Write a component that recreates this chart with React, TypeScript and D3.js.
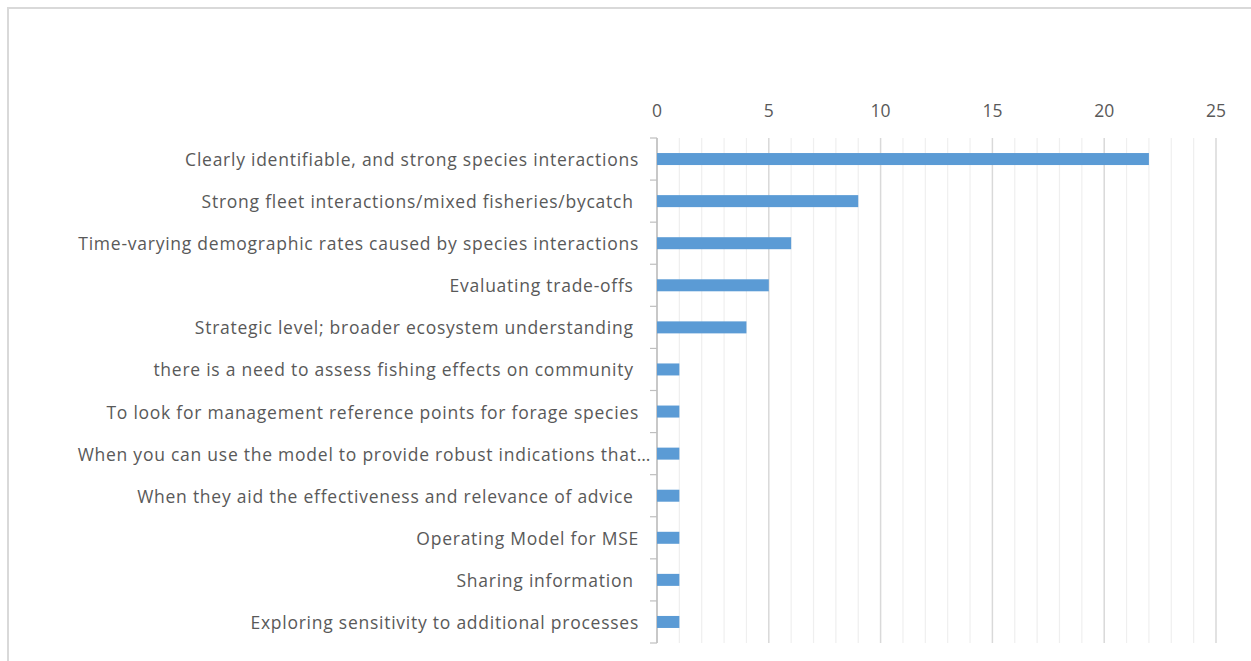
import React from "react";
import * as d3 from "d3";

const categories = [
  "Clearly identifiable, and strong species interactions",
  "Strong fleet interactions/mixed fisheries/bycatch ",
  "Time-varying demographic rates caused by species interactions",
  "Evaluating trade-offs ",
  "Strategic level; broader ecosystem understanding ",
  "there is a need to assess fishing effects on community ",
  "To look for management reference points for forage species",
  "When you can use the model to provide robust indications that…",
  "When they aid the effectiveness and relevance of advice ",
  "Operating Model for MSE",
  "Sharing information ",
  "Exploring sensitivity to additional processes",
];
const values = [22, 9, 6, 5, 4, 1, 1, 1, 1, 1, 1, 1];
const majorTicks = [0, 5, 10, 15, 20, 25];
const minorTicks = d3.range(0, 26);

const W = 1251;
const H = 661;
const plotLeft = 657;
const plotRight = 1216;
const plotTop = 138;
const plotBottom = 643;

export default function App() {
  const x = d3.scaleLinear().domain([0, 25]).range([plotLeft, plotRight]);
  const y = d3.scaleBand<string>().domain(categories).range([plotTop, plotBottom]).padding(0);
  const bandW = y.bandwidth();
  const barH = 12;
  const font = "'Open Sans', 'Noto Sans', sans-serif";
  return (
    <svg
      width={W}
      height={H}
      style={{ position: "absolute", left: 0, top: 0, background: "#fff" }}
    >
      <rect x={8} y={8} width={W + 10} height={H + 10} fill="none" stroke="#d9d9d9" strokeWidth={2} />
      {minorTicks.map((t) => (
        <line
          key={"g" + t}
          x1={x(t)}
          x2={x(t)}
          y1={plotTop}
          y2={plotBottom}
          stroke={t % 5 === 0 ? "#d9d9d9" : "#efefef"}
          strokeWidth={t % 5 === 0 ? 1.5 : 1.2}
        />
      ))}
      {majorTicks.map((t) => (
        <text
          key={"t" + t}
          x={x(t)}
          y={110}
          textAnchor="middle"
          dominantBaseline="central"
          fontFamily={font}
          fontSize={17.5}
          fill="#595959"
        >
          {t}
        </text>
      ))}
      <line x1={plotLeft} x2={plotLeft} y1={plotTop} y2={plotBottom} stroke="#bfbfbf" strokeWidth={1.5} />
      {d3.range(categories.length + 1).map((i) => {
        const yy = plotTop + i * bandW;
        return <line key={"yt" + i} x1={plotLeft - 7} x2={plotLeft} y1={yy} y2={yy} stroke="#bfbfbf" strokeWidth={1.2} />;
      })}
      {categories.map((c, i) => (
        <rect
          key={"b" + i}
          x={x(0)}
          y={(y(c) as number) + bandW / 2 - barH / 2}
          width={x(values[i]) - x(0)}
          height={barH}
          fill="#5b9bd5"
        />
      ))}
      {categories.map((c, i) => (
        <text
          key={"l" + i}
          x={i === 7 ? 651 : 639}
          y={(y(c) as number) + bandW / 2}
          textAnchor="end"
          dominantBaseline="central"
          fontFamily={font}
          fontSize={17.5}
          letterSpacing={0.75}
          fill="#595959"
          style={{ whiteSpace: "pre" }}
        >
          {c}
        </text>
      ))}
    </svg>
  );
}
